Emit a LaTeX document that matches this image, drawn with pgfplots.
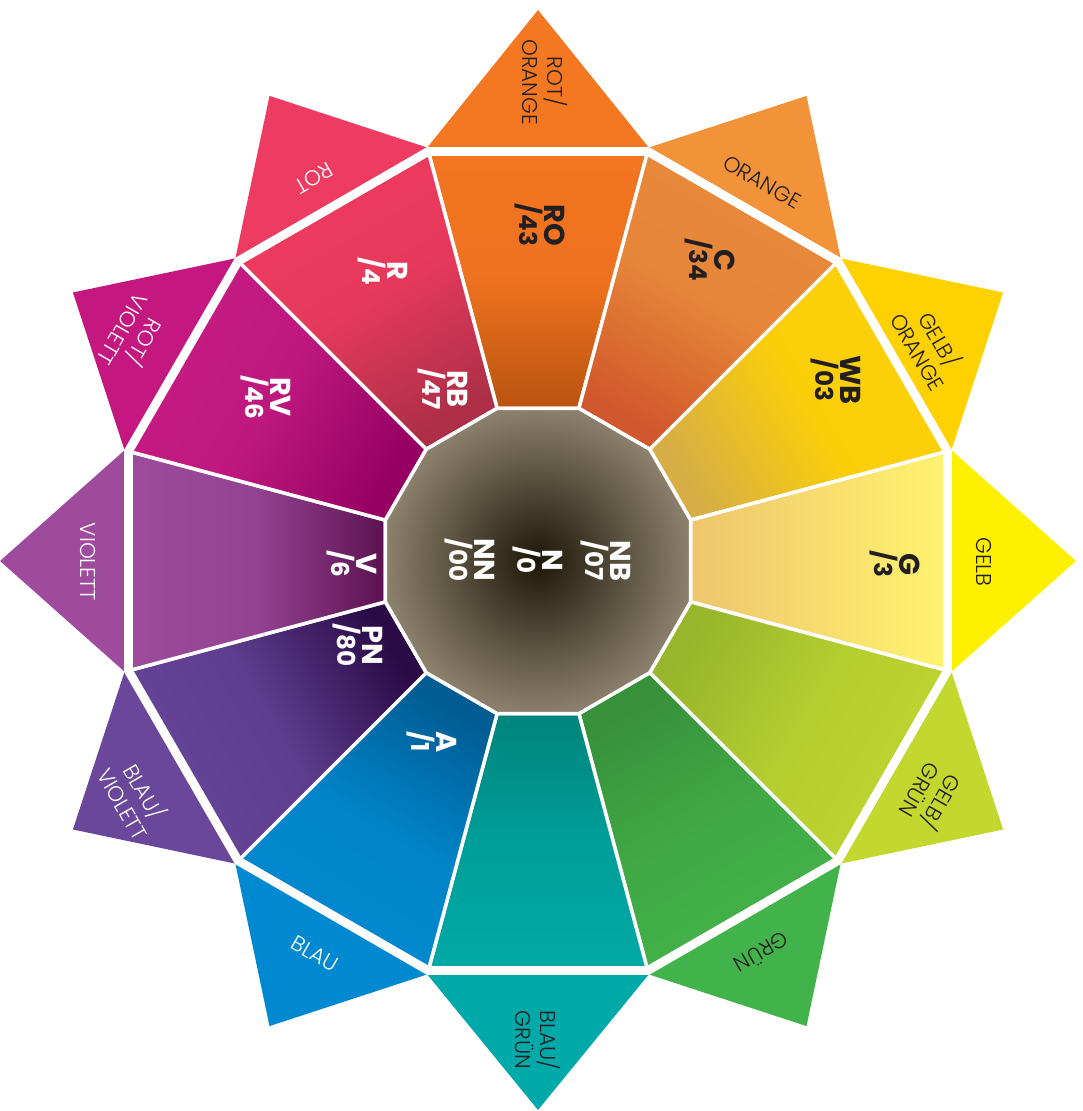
\documentclass[border=0pt]{standalone}
\usepackage{pgfplots}
\pgfplotsset{compat=1.18}
\usepackage{fontspec}
\setmainfont{Poppins}
\newfontfamily\lightf{Poppins Light}

% sector colours: outer / inner
\definecolor{roO}{HTML}{F37521}\definecolor{roI}{HTML}{BA540F}
\definecolor{cO}{HTML}{E8893A}\definecolor{cI}{HTML}{D1582C}
\definecolor{wbO}{HTML}{FDD106}\definecolor{wbI}{HTML}{D6AE45}
\definecolor{gO}{HTML}{FFF36F}\definecolor{gI}{HTML}{EFC56D}
\definecolor{ygO}{HTML}{BED630}\definecolor{ygI}{HTML}{98B52C}
\definecolor{grO}{HTML}{43B34A}\definecolor{grI}{HTML}{37903A}
\definecolor{bgO}{HTML}{00A9A7}\definecolor{bgI}{HTML}{00847A}
\definecolor{aO}{HTML}{0089CF}\definecolor{aI}{HTML}{005C93}
\definecolor{pnO}{HTML}{67469B}\definecolor{pnI}{HTML}{2B0A47}
\definecolor{vO}{HTML}{9D4B9D}\definecolor{vI}{HTML}{5C1250}
\definecolor{rvO}{HTML}{C51C83}\definecolor{rvI}{HTML}{960062}
\definecolor{rO}{HTML}{EF3B5F}\definecolor{rI}{HTML}{AD2F47}
% outer triangles
\definecolor{t90}{HTML}{F47822}
\definecolor{t60}{HTML}{F39339}
\definecolor{t30}{HTML}{FFD100}
\definecolor{t0}{HTML}{FFF000}
\definecolor{tm30}{HTML}{C2D82F}
\definecolor{tm60}{HTML}{42B34A}
\definecolor{tm90}{HTML}{00A9A9}
\definecolor{tm120}{HTML}{0089D0}
\definecolor{tm150}{HTML}{6A479B}
\definecolor{t180}{HTML}{9E4B9E}
\definecolor{t150}{HTML}{C4177F}
\definecolor{t120}{HTML}{EE3B61}
\definecolor{nI}{HTML}{1D1707}\definecolor{nO}{HTML}{8B806C}
\definecolor{txt}{HTML}{231F20}

\newcommand{\lab}[2]{#1\\{\fontsize{7}{7}\selectfont #2}}
\tikzset{
    seclab/.style={font=\fontsize{8.2}{7}\selectfont\bfseries, align=center, rotate=-90},
    trilab/.style={font=\fontsize{6.1}{7.1}\selectfont\lightf, align=center},
    sector/.style={draw=white, line width=1pt},
}

\begin{document}
\begin{tikzpicture}
\begin{axis}[
    axis line style={draw=none},
    xtick=\empty, ytick=\empty,
    x=0.1mm, y=0.1mm,
    xmin=-538, xmax=544,
    ymin=-550, ymax=561,
    clip=false,
]

% outer triangles
\addplot[fill=t90, draw=none] coordinates {(-110.77,413.42) (0,551) (110.77,413.42)} -- cycle;
\addplot[fill=t60, draw=none] coordinates {(110.77,413.42) (268.5,465.1) (302.64,302.64)} -- cycle;
\addplot[fill=t30, draw=none] coordinates {(302.64,302.64) (465.1,268.5) (413.42,110.77)} -- cycle;
\addplot[fill=t0, draw=none] coordinates {(413.42,110.77) (538,0) (413.42,-110.77)} -- cycle;
\addplot[fill=tm30, draw=none] coordinates {(413.42,-110.77) (465.1,-268.5) (302.64,-302.64)} -- cycle;
\addplot[fill=tm60, draw=none] coordinates {(302.64,-302.64) (268.5,-465.1) (110.77,-413.42)} -- cycle;
\addplot[fill=tm90, draw=none] coordinates {(110.77,-413.42) (0,-549) (-110.77,-413.42)} -- cycle;
\addplot[fill=tm120, draw=none] coordinates {(-110.77,-413.42) (-268.5,-465.1) (-302.64,-302.64)} -- cycle;
\addplot[fill=tm150, draw=none] coordinates {(-302.64,-302.64) (-465.1,-268.5) (-413.42,-110.77)} -- cycle;
\addplot[fill=t180, draw=none] coordinates {(-413.42,-110.77) (-538,0) (-413.42,110.77)} -- cycle;
\addplot[fill=t150, draw=none] coordinates {(-413.42,110.77) (-465.1,268.5) (-302.64,302.64)} -- cycle;
\addplot[fill=t120, draw=none] coordinates {(-302.64,302.64) (-268.5,465.1) (-110.77,413.42)} -- cycle;

% sectors of the ring (middle color must follow top/bottom)
\addplot[sector, top color=roO, bottom color=roI, middle color=roO!90!roI, shading angle=0] coordinates {(-109.74,409.55) (109.74,409.55) (40.89,152.62) (-40.89,152.62)} -- cycle;
\addplot[sector, top color=cO, bottom color=cI, middle color=cO!93!cI, shading angle=-30] coordinates {(109.74,409.55) (299.81,299.81) (111.72,111.72) (40.89,152.62)} -- cycle;
\addplot[sector, top color=wbO, bottom color=wbI, middle color=wbO!93!wbI, shading angle=-60] coordinates {(299.81,299.81) (409.55,109.74) (152.62,40.89) (111.72,111.72)} -- cycle;
\addplot[sector, top color=gO, bottom color=gI, shading angle=-90] coordinates {(409.55,109.74) (409.55,-109.74) (152.62,-40.89) (152.62,40.89)} -- cycle;
\addplot[sector, top color=ygO, bottom color=ygI, middle color=ygO!75!ygI, shading angle=-120] coordinates {(409.55,-109.74) (299.81,-299.81) (111.72,-111.72) (152.62,-40.89)} -- cycle;
\addplot[sector, top color=grO, bottom color=grI, middle color=grO!72!grI, shading angle=-150] coordinates {(299.81,-299.81) (109.74,-409.55) (40.89,-152.62) (111.72,-111.72)} -- cycle;
\addplot[sector, top color=bgO, bottom color=bgI, middle color=bgO!70!bgI, shading angle=180] coordinates {(109.74,-409.55) (-109.74,-409.55) (-40.89,-152.62) (40.89,-152.62)} -- cycle;
\addplot[sector, top color=aO, bottom color=aI, middle color=aO!90!aI, shading angle=150] coordinates {(-109.74,-409.55) (-299.81,-299.81) (-111.72,-111.72) (-40.89,-152.62)} -- cycle;
\addplot[sector, top color=pnO, bottom color=pnI, middle color=pnO!85!pnI, shading angle=120] coordinates {(-299.81,-299.81) (-409.55,-109.74) (-152.62,-40.89) (-111.72,-111.72)} -- cycle;
\addplot[sector, top color=vO, bottom color=vI, middle color=vO!85!vI, shading angle=90] coordinates {(-409.55,-109.74) (-409.55,109.74) (-152.62,40.89) (-152.62,-40.89)} -- cycle;
\addplot[sector, top color=rvO, bottom color=rvI, middle color=rvO!85!rvI, shading angle=60] coordinates {(-409.55,109.74) (-299.81,299.81) (-111.72,111.72) (-152.62,40.89)} -- cycle;
\addplot[sector, top color=rO, bottom color=rI, middle color=rO!85!rI, shading angle=30] coordinates {(-299.81,299.81) (-109.74,409.55) (-40.89,152.62) (-111.72,111.72)} -- cycle;

% white band between ring and triangles
\addplot[draw=white, line width=2.5pt, line join=miter] coordinates {(409.55,109.74) (299.81,299.81) (109.74,409.55) (-109.74,409.55) (-299.81,299.81) (-409.55,109.74) (-409.55,-109.74) (-299.81,-299.81) (-109.74,-409.55) (109.74,-409.55) (299.81,-299.81) (409.55,-109.74)} -- cycle;

% neutral centre
\addplot[draw=white, line width=1pt, inner color=nI, outer color=nO] coordinates {(152.62,40.89) (111.72,111.72) (40.89,152.62) (-40.89,152.62) (-111.72,111.72) (-152.62,40.89) (-152.62,-40.89) (-111.72,-111.72) (-40.89,-152.62) (40.89,-152.62) (111.72,-111.72) (152.62,-40.89)} -- cycle;

% sector labels
\node[seclab, text=txt] at (2,336) {\lab{RO}{/43}};
\node[seclab, text=txt] at (172,301) {\lab{C}{/34}};
\node[seclab, text=txt] at (298,181) {\lab{WB}{/03}};
\node[seclab, text=txt] at (357,-3) {\lab{G}{/3}};
\node[seclab, text=white] at (-106,-181) {\lab{A}{/1}};
\node[seclab, text=white] at (-180,-84) {\lab{PN}{/80}};
\node[seclab, text=white] at (-186,-3) {\lab{V}{/6}};
\node[seclab, text=white] at (-272,164) {\lab{RV}{/46}};
\node[seclab, text=white] at (-155,290) {\lab{R}{/4}};
\node[seclab, text=white] at (-95,172) {\lab{RB}{/47}};
\node[seclab, text=white] at (68,0) {\lab{NB}{/07}};
\node[seclab, text=white] at (0,1) {\lab{N}{/0}};
\node[seclab, text=white] at (-68,1) {\lab{NN}{/00}};

% triangle labels
\node[trilab, text=txt, rotate=-90] at (7,479) {ROT/\\ORANGE};
\node[trilab, text=txt, rotate=-30] at (224,379) {ORANGE};
\node[trilab, text=txt, rotate=-60] at (392,216) {GELB/\\ORANGE};
\node[trilab, text=txt, rotate=-90] at (446,-1) {GELB};
\node[trilab, text=txt, rotate=-120] at (394,-236) {GELB/\\GRÜN};
\node[trilab, text=txt, rotate=-150] at (224,-392) {GRÜN};
\node[trilab, text=txt, rotate=-90] at (0,-479) {BLAU/\\GRÜN};
\node[trilab, text=white, rotate=-30] at (-223,-393) {BLAU};
\node[trilab, text=white, rotate=-60] at (-403,-236) {BLAU/\\VIOLETT};
\node[trilab, text=white, rotate=-90] at (-450,-1) {VIOLETT};
\node[trilab, text=white, rotate=-120] at (-403,224) {ROT/\\VIOLETT};
\node[trilab, text=white, rotate=-150] at (-224,383) {ROT};

\end{axis}
\end{tikzpicture}
\end{document}
